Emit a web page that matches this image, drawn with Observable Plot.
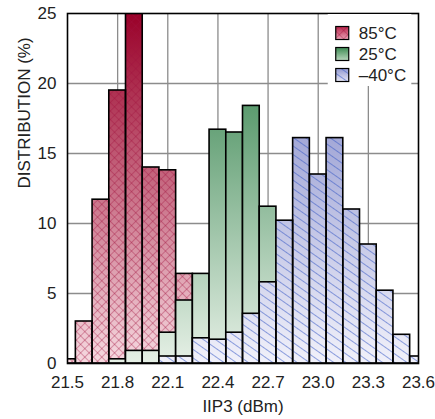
<!DOCTYPE html>
<html><head><meta charset="utf-8">
<script src="https://cdn.jsdelivr.net/npm/d3@7"></script>
<script src="https://cdn.jsdelivr.net/npm/@observablehq/plot@0.6"></script>
<style>
body{margin:0;background:#fff}
#chart svg{font-family:"Liberation Sans",Arial,Helvetica,sans-serif;overflow:visible}
</style>
</head><body><div id="chart"></div>
<script>
// bin centres (dBm), bin width 0.1
const binCenters = [21.5,21.6,21.7,21.8,21.9,22.0,22.1,22.2,22.3,22.4,22.5,22.6,22.7,22.8,22.9,23.0,23.1,23.2,23.3,23.4,23.5,23.6];
const hot85  = [0.3,3.0,11.7,19.5,25,14.0,13.8,6.4,0,0,0,0,0,0,0,0,0,0,0,0,0,0];
const room25 = [0,0,0,0.3,0.9,0.9,2.2,4.5,6.4,16.7,16.5,18.4,11.2,0,0,0,0,0,0,0,0,0];
const cold40 = [0,0,0,0,0,0,0.5,0.5,1.8,1.7,2.2,3.55,5.8,10.2,16.1,13.5,16.1,11.0,8.5,5.2,2.05,0.5];
const xTicks = [21.5,21.8,22.1,22.4,22.7,23.0,23.3,23.6];
const yTicks = [0,5,10,15,20,25];
const seriesNames = ["85°C","25°C","–40°C"];
const binWidth = 0.1;

const toRows = vals => binCenters.map((c,i)=>({x1:c-binWidth/2,x2:c+binWidth/2,v:vals[i]})).filter(d=>d.v>0);
const redRows = toRows(hot85), greenRows = toRows(room25), blueRows = toRows(cold40);

const bar = (rows, fill, stroke) => Plot.rectY(rows, {x1:"x1", x2:"x2", y:"v", fill, stroke: stroke ? "#000" : "none", strokeWidth:1.6, clip:true, inset:0});

const plot = Plot.plot({
  width:435, height:419,
  marginLeft:67, marginRight:17, marginTop:13, marginBottom:56,
  style:{fontSize:"17px", color:"#222", background:"#fff"},
  x:{domain:[21.5,23.6]},
  y:{domain:[0,25]},
  marks:[
    Plot.ruleX(xTicks.slice(1,-1), {stroke:"#8c8c8c", strokeWidth:1.3}),
    Plot.ruleY(yTicks.slice(1,-1), {stroke:"#8c8c8c", strokeWidth:1.3}),
    bar(redRows, "url(#gRed)", false),
    bar(redRows, "url(#pRed)", true),
    bar(greenRows, "url(#gGreen)", true),
    bar(blueRows, "url(#gBlue)", false),
    bar(blueRows, "url(#pBlue)", true),
    Plot.frame({stroke:"#000", strokeWidth:1.6}),
    Plot.axisX({ticks:xTicks, tickFormat:d=>d.toFixed(1), tickSize:0, tickPadding:12, label:null, fontSize:17}),
    Plot.axisY({ticks:yTicks, tickSize:0, tickPadding:11, label:null, fontSize:17}),
    Plot.text(["IIP3 (dBm)"], {frameAnchor:"bottom", dy:43, lineAnchor:"middle", fontSize:17, fill:"#222"}),
    Plot.text(["DISTRIBUTION (%)"], {frameAnchor:"left", dx:-43, rotate:-90, lineAnchor:"middle", fontSize:17, fill:"#222"})
  ]
});

const svg = d3.select(plot);
const ys = plot.scale("y"), xs = plot.scale("x");
const yTop = ys.apply(25), yBot = ys.apply(0);
const defs = svg.insert("defs", ":first-child");
function grad(id, c1, c2){
  const g = defs.append("linearGradient").attr("id",id).attr("gradientUnits","userSpaceOnUse")
    .attr("x1",0).attr("x2",0).attr("y1",yTop).attr("y2",yBot);
  g.append("stop").attr("offset",0).attr("stop-color",c1);
  g.append("stop").attr("offset",1).attr("stop-color",c2);
}
grad("gRed","#990028","#f6d9e0");
grad("gGreen","#2a7d44","#e6f0e6");
grad("gBlue","#7880c4","#f1f1fa");
const pr = defs.append("pattern").attr("id","pRed").attr("patternUnits","userSpaceOnUse")
  .attr("width",6).attr("height",6).attr("patternTransform","rotate(45)");
pr.append("line").attr("x1",0).attr("y1",0).attr("x2",6).attr("y2",0).attr("stroke","#a0103c").attr("stroke-opacity",0.6).attr("stroke-width",1.2);
pr.append("line").attr("x1",0).attr("y1",0).attr("x2",0).attr("y2",6).attr("stroke","#a0103c").attr("stroke-opacity",0.6).attr("stroke-width",1.2);
const pb = defs.append("pattern").attr("id","pBlue").attr("patternUnits","userSpaceOnUse")
  .attr("width",8).attr("height",7).attr("patternTransform","rotate(35)");
pb.append("line").attr("x1",0).attr("y1",0).attr("x2",8).attr("y2",0).attr("stroke","#3858c4").attr("stroke-width",1.1);

// legend (inside the frame, top right)
const lg = svg.append("g").attr("text-anchor","start");
const lx = xs.apply(23.06), lw = xs.apply(23.56) - lx;
lg.append("rect").attr("x",lx).attr("y",yTop+1).attr("width",lw).attr("height",72).attr("fill","#fff");
const swFill = [["url(#gRed)","url(#pRed)"],["url(#gGreen)",null],["url(#gBlue)","url(#pBlue)"]];
const swGradLocal = [["#b8244a","#eaa4b6"],["#3c8a52","#b9d6bd"],["#9198d0","#e6e7f6"]];
swGradLocal.forEach((c,i)=>{
  const g = defs.append("linearGradient").attr("id","sw"+i).attr("x1",0).attr("x2",0).attr("y1",0).attr("y2",1);
  g.append("stop").attr("offset",0).attr("stop-color",c[0]);
  g.append("stop").attr("offset",1).attr("stop-color",c[1]);
});
seriesNames.forEach((name,i)=>{
  const cy = yTop + 20 + i*21;
  lg.append("rect").attr("x",lx+8).attr("y",cy-6.5).attr("width",13).attr("height",13).attr("fill",`url(#sw${i})`);
  if (swFill[i][1]) lg.append("rect").attr("x",lx+8).attr("y",cy-6.5).attr("width",13).attr("height",13).attr("fill",swFill[i][1]);
  lg.append("rect").attr("x",lx+8).attr("y",cy-6.5).attr("width",13).attr("height",13).attr("fill","none").attr("stroke","#000").attr("stroke-width",1.2);
  lg.append("text").attr("x",lx+31).attr("y",cy).attr("dy","0.36em").attr("text-anchor","start").attr("font-size",17).attr("fill","#222").text(name);
});
document.getElementById("chart").appendChild(plot);
</script>
</body></html>
